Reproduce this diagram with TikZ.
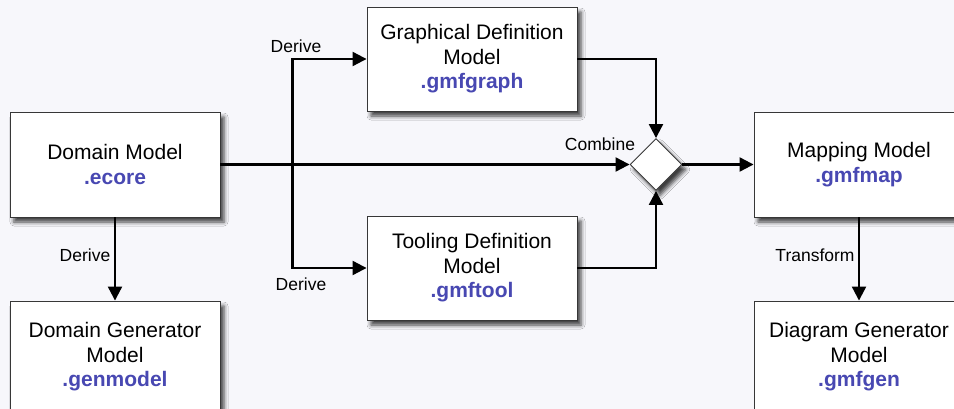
\documentclass[tikz,border=0pt]{standalone}
\usepackage{fontspec}
\setmainfont{Liberation Sans}
\usetikzlibrary{shapes.geometric,arrows.meta,shadows.blur,calc}
\definecolor{bg}{RGB}{247,247,251}
\definecolor{ext}{RGB}{72,72,178}
\definecolor{frame}{RGB}{55,55,55}
\tikzset{
  model/.style={draw=frame, line width=0.9pt, fill=white, minimum width=210pt, minimum height=105pt,
    inner sep=0pt, align=center, font=\fontsize{21}{24.5}\selectfont,
    blur shadow={shadow xshift=4pt, shadow yshift=-5pt, shadow blur radius=4pt, shadow opacity=75}},
  merge/.style={diamond, draw=frame, line width=0.9pt, fill=white, minimum width=52pt, minimum height=52pt,
    inner sep=0pt, aspect=1,
    blur shadow={shadow xshift=4pt, shadow yshift=-5pt, shadow blur radius=4pt, shadow opacity=75}},
  conn/.style={line width=2.2pt, -{Triangle[length=14pt,width=14pt]}},
  lbl/.style={font=\fontsize{17.5}{20}\selectfont, inner sep=0pt},
}
\newcommand{\ext}[1]{{\color{ext}\bfseries #1}}
\begin{document}
\begin{tikzpicture}[x=1pt,y=-1pt]
\fill[bg] (0,0) rectangle (954,409);
\useasboundingbox (0,0) rectangle (954,409);

\node[model] (dm) at (115,164.5) {Domain Model\\\ext{.ecore}};
\node[model, minimum height=112pt] (dgm) at (115,357) {Domain Generator\\Model\\\ext{.genmodel}};
\node[model, minimum height=104pt] (gd) at (472,59) {Graphical Definition\\Model\\\ext{.gmfgraph}};
\node[model, minimum height=104pt] (td) at (472,268) {Tooling Definition\\Model\\\ext{.gmftool}};
\node[merge] (cb) at (656,164.5) {};
\node[model] (mm) at (859,164.5) {Mapping Model\\\ext{.gmfmap}};
\node[model, minimum height=112pt] (dg) at (859,357) {Diagram Generator\\Model\\\ext{.gmfgen}};

\coordinate (split) at ($(dm.east)+(72,0)$);

\draw[conn] (dm.east) -- (cb.west);
\draw[conn] (split) |- (gd.west);
\draw[conn] (split) |- (td.west);
\draw[conn] (gd.east) -| (cb.north);
\draw[conn] (td.east) -| (cb.south);
\draw[conn] (cb.east) -- (mm.west);
\draw[conn] (dm.south) -- (dgm.north);
\draw[conn] (mm.south) -- (dg.north);

\node[lbl] (l1) at (296,46) {Derive};
\node[lbl] (l2) at (301,284) {Derive};
\node[lbl] (l3) at (85,255) {Derive};
\node[lbl] (l4) at (815,255) {Transform};
\node[lbl] (l5) at (600,144) {Combine};
\end{tikzpicture}
\end{document}
